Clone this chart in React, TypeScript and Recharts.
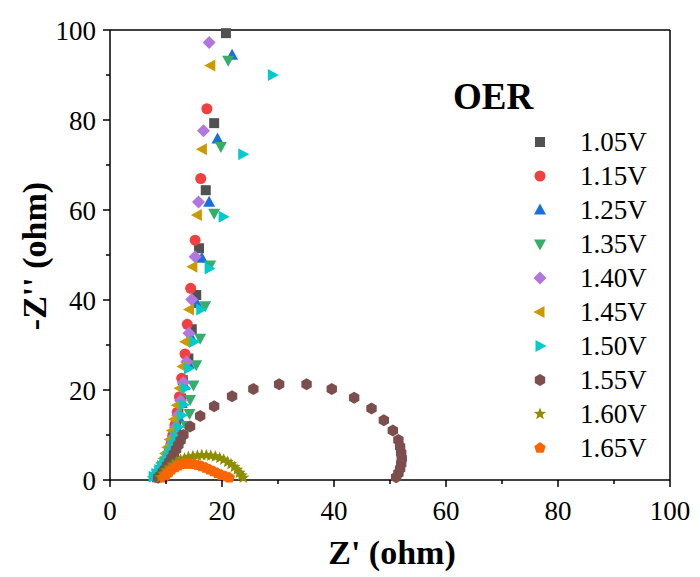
import React from "react";
import { ScatterChart, Scatter, XAxis, YAxis, ReferenceLine, Legend } from "recharts";

const FONT = "'Times New Roman', 'Liberation Serif', serif";

const voltages = ["1.05V", "1.15V", "1.25V", "1.35V", "1.40V", "1.45V", "1.50V", "1.55V", "1.60V", "1.65V"];
const colors = ["#515151", "#F14040", "#1A6FDF", "#37AD6B", "#B177DE", "#CC9900", "#00CBCC", "#7D4E4E", "#8E8E00", "#FB6501"];
const markers = ["square", "circle", "up", "down", "diamond", "left", "right", "hexagon", "star", "pentagon"];

const axisTicks = [0, 10, 20, 30, 40, 50, 60, 70, 80, 90, 100];

// [Z', -Z''] pairs
const s105 = [[8.4, 0.6], [8.8, 1.2], [9.2, 1.9], [9.5, 2.6], [9.8, 3.4], [10.1, 4.3], [10.4, 5.3], [10.7, 6.5], [11.0, 8.0], [11.4, 9.8], [11.8, 12.0], [12.2, 14.8], [12.7, 18.1], [13.0, 22.2], [14.0, 27.0], [14.6, 33.5], [15.4, 41.1], [15.9, 51.5], [17.1, 64.4], [18.6, 79.3], [20.7, 99.3]];
const s115 = [[8.3, 0.6], [8.7, 1.3], [9.1, 2.0], [9.4, 2.7], [9.7, 3.5], [10.0, 4.4], [10.3, 5.4], [10.6, 6.6], [10.9, 8.1], [11.2, 9.9], [11.6, 12.2], [12.0, 15.0], [12.4, 18.5], [12.8, 22.6], [13.4, 28.0], [13.8, 34.6], [14.4, 42.6], [15.2, 53.3], [16.2, 67.0], [17.3, 82.5]];
const s125 = [[8.3, 0.7], [8.8, 1.5], [9.2, 2.2], [9.6, 3.0], [10.0, 3.9], [10.4, 4.9], [10.7, 6.0], [11.1, 7.4], [11.5, 9.1], [11.9, 11.2], [12.3, 13.8], [12.8, 17.0], [13.3, 21.0], [14.0, 25.9], [14.4, 31.9], [15.5, 39.2], [16.4, 49.3], [17.7, 61.7], [19.2, 75.8], [21.8, 94.4]];
const s135 = [[8.8, 0.9], [9.4, 1.7], [10.0, 2.5], [10.5, 3.4], [11.0, 4.3], [11.5, 5.4], [12.0, 6.6], [12.5, 8.1], [13.0, 9.9], [13.6, 12.1], [14.2, 14.8], [14.3, 17.9], [14.9, 21.1], [15.4, 25.6], [16.1, 31.5], [17.0, 38.7], [17.9, 47.8], [18.6, 59.3], [19.8, 74.1], [21.1, 93.3]];
const s140 = [[8.1, 0.7], [8.5, 1.5], [8.9, 2.3], [9.3, 3.1], [9.7, 4.0], [10.1, 5.0], [10.5, 6.2], [10.9, 7.7], [11.3, 9.5], [11.7, 11.7], [12.1, 14.4], [12.6, 17.6], [13.1, 21.6], [13.7, 26.3], [14.1, 32.6], [14.6, 40.1], [15.2, 49.6], [15.8, 61.8], [16.7, 77.6], [17.7, 97.2]];
const s145 = [[7.7, 0.7], [8.1, 1.4], [8.5, 2.1], [8.9, 2.9], [9.2, 3.8], [9.6, 4.8], [9.9, 5.9], [10.3, 7.3], [10.7, 9.0], [11.1, 11.0], [11.5, 13.5], [12.0, 16.6], [12.5, 20.4], [13.0, 25.2], [13.5, 30.7], [14.2, 37.9], [14.8, 47.4], [15.6, 58.9], [16.5, 73.5], [18.0, 92.1]];
const s150 = [[7.7, 0.7], [8.2, 1.4], [8.7, 2.2], [9.2, 3.1], [9.7, 4.0], [10.2, 5.1], [10.7, 6.3], [11.2, 7.8], [11.7, 9.6], [12.2, 11.8], [12.8, 14.4], [13.1, 16.7], [13.4, 20.4], [14.0, 24.8], [15.0, 30.7], [16.2, 37.9], [17.7, 47.0], [20.2, 58.5], [23.7, 72.4], [29.0, 90.0]];
const s155 = [[8.6, 0.5], [9.0, 1.0], [9.4, 1.7], [9.8, 2.4], [10.2, 3.2], [10.6, 4.0], [11.0, 4.9], [11.4, 5.8], [11.8, 6.8], [12.2, 7.8], [12.6, 8.8], [13.1, 10.0], [14.3, 11.9], [16.1, 14.2], [18.6, 16.4], [21.8, 18.6], [25.6, 20.2], [30.2, 21.3], [35.1, 21.3], [39.6, 20.2], [43.6, 18.3], [46.7, 15.9], [48.9, 13.3], [50.5, 11.0], [51.5, 8.9], [51.8, 7.4], [52.0, 6.0], [52.1, 4.8], [52.0, 3.6], [51.8, 2.5], [51.5, 1.5], [51.1, 0.6]];
const s160 = [[9.0, 0.6], [9.5, 1.4], [10.0, 2.1], [10.6, 2.8], [11.2, 3.4], [11.9, 4.0], [12.6, 4.5], [13.3, 4.8], [14.0, 5.1], [14.8, 5.3], [15.6, 5.4], [16.4, 5.5], [17.2, 5.5], [18.0, 5.4], [18.8, 5.2], [19.6, 4.9], [20.3, 4.5], [21.0, 4.0], [21.6, 3.5], [22.2, 2.9], [22.7, 2.3], [23.1, 1.6], [23.5, 1.0], [23.8, 0.5]];
const s165 = [[9.6, 0.5], [10.0, 1.1], [10.5, 1.7], [11.0, 2.3], [11.6, 2.8], [12.2, 3.2], [12.9, 3.5], [13.6, 3.6], [14.3, 3.6], [15.0, 3.5], [15.7, 3.3], [16.4, 3.0], [17.1, 2.7], [17.8, 2.3], [18.5, 1.9], [19.2, 1.5], [19.9, 1.1], [20.6, 0.8], [21.3, 0.5]];

const allSeries = [s105, s115, s125, s135, s140, s145, s150, s155, s160, s165];

function poly(cx: number, cy: number, r: number, n: number, rot: number) {
  const pts: string[] = [];
  for (let i = 0; i < n; i++) {
    const a = rot + (i * 2 * Math.PI) / n;
    pts.push(`${cx + r * Math.cos(a)},${cy + r * Math.sin(a)}`);
  }
  return pts.join(" ");
}

function starPts(cx: number, cy: number, ro: number, ri: number) {
  const pts: string[] = [];
  for (let i = 0; i < 10; i++) {
    const r = i % 2 === 0 ? ro : ri;
    const a = -Math.PI / 2 + (i * Math.PI) / 5;
    pts.push(`${cx + r * Math.cos(a)},${cy + r * Math.sin(a)}`);
  }
  return pts.join(" ");
}

function Marker({ kind, cx, cy, color }: { kind: string; cx: number; cy: number; color: string }) {
  switch (kind) {
    case "square":
      return <rect x={cx - 5} y={cy - 5} width={10} height={10} fill={color} />;
    case "circle":
      return <circle cx={cx} cy={cy} r={5.5} fill={color} />;
    case "up":
      return <polygon points={`${cx},${cy - 6.5} ${cx - 6},${cy + 4.5} ${cx + 6},${cy + 4.5}`} fill={color} />;
    case "down":
      return <polygon points={`${cx},${cy + 6.5} ${cx - 6},${cy - 4.5} ${cx + 6},${cy - 4.5}`} fill={color} />;
    case "diamond":
      return <polygon points={`${cx},${cy - 6.5} ${cx + 6.5},${cy} ${cx},${cy + 6.5} ${cx - 6.5},${cy}`} fill={color} />;
    case "left":
      return <polygon points={`${cx - 6.5},${cy} ${cx + 4.5},${cy - 6} ${cx + 4.5},${cy + 6}`} fill={color} />;
    case "right":
      return <polygon points={`${cx + 6.5},${cy} ${cx - 4.5},${cy - 6} ${cx - 4.5},${cy + 6}`} fill={color} />;
    case "hexagon":
      return <polygon points={poly(cx, cy, 6, 6, -Math.PI / 2)} fill={color} />;
    case "star":
      return <polygon points={starPts(cx, cy, 6.5, 2.8)} fill={color} />;
    default:
      return <polygon points={poly(cx, cy, 6, 5, -Math.PI / 2)} fill={color} />;
  }
}

function XTick(props: any) {
  const { x, y, payload } = props;
  const major = payload.value % 20 === 0;
  return (
    <g>
      <line x1={x} y1={y} x2={x} y2={y + (major ? 7 : 4)} stroke="#000" strokeWidth={1.5} />
      {major && (
        <text x={x} y={y + 40} textAnchor="middle" fontSize={27} fontFamily={FONT} fill="#000">
          {payload.value}
        </text>
      )}
    </g>
  );
}

function YTick(props: any) {
  const { x, y, payload } = props;
  const major = payload.value % 20 === 0;
  return (
    <g>
      <line x1={x} y1={y} x2={x - (major ? 7 : 4)} y2={y} stroke="#000" strokeWidth={1.5} />
      {major && (
        <text x={x - 14} y={y + 9.5} textAnchor="end" fontSize={27} fontFamily={FONT} fill="#000">
          {payload.value}
        </text>
      )}
    </g>
  );
}

function LegendBox() {
  return (
    <svg width={260} height={420}>
      <text x={13} y={49} fontSize={37} fontWeight="bold" fontFamily={FONT} fill="#000">
        OER
      </text>
      {voltages.map((v, i) => (
        <g key={v}>
          <Marker kind={markers[i]} cx={100} cy={82 + i * 34} color={colors[i]} />
          <text x={140} y={82 + i * 34 + 9} fontSize={27} fontFamily={FONT} fill="#000">
            {v}
          </text>
        </g>
      ))}
    </svg>
  );
}

export default function App() {
  return (
    <div style={{ width: 700, height: 577 }}>
      <style>{`body{margin:0}`}</style>
      <ScatterChart width={700} height={577} margin={{ top: 30, right: 30, left: 0, bottom: 37 }}>
        <XAxis
          type="number"
          dataKey="x"
          domain={[0, 100]}
          ticks={axisTicks}
          interval={0}
          height={60}
          tickSize={0}
          tickMargin={0}
          tickLine={false}
          tick={<XTick />}
          axisLine={{ stroke: "#000", strokeWidth: 1.5 }}
          label={{
            content: () => (
              <text x={392} y={564} textAnchor="middle" fontSize={34} fontWeight="bold" fontFamily={FONT} fill="#000">
                Z' (ohm)
              </text>
            ),
          }}
        />
        <YAxis
          type="number"
          dataKey="y"
          domain={[0, 100]}
          ticks={axisTicks}
          interval={0}
          width={110}
          tickSize={0}
          tickMargin={0}
          tickLine={false}
          tick={<YTick />}
          axisLine={{ stroke: "#000", strokeWidth: 1.5 }}
          label={{
            content: () => (
              <text
                x={0}
                y={0}
                transform="translate(46,256) rotate(-90)"
                textAnchor="middle"
                fontSize={34}
                fontWeight="bold"
                fontFamily={FONT}
                fill="#000"
              >
                -Z'' (ohm)
              </text>
            ),
          }}
        />
        <ReferenceLine y={100} stroke="#000" strokeWidth={1.5} />
        <ReferenceLine x={100} stroke="#000" strokeWidth={1.5} />
        {allSeries.map((s, i) => (
          <Scatter
            key={voltages[i]}
            name={voltages[i]}
            data={s.map(([x, y]) => ({ x, y }))}
            fill={colors[i]}
            isAnimationActive={false}
            shape={(p: any) => <Marker kind={markers[i]} cx={p.cx} cy={p.cy} color={colors[i]} />}
          />
        ))}
        <Legend
          layout="vertical"
          align="center"
          verticalAlign="middle"
          content={() => <LegendBox />}
          wrapperStyle={{ position: "absolute", left: 440, top: 60, width: 260, height: 420 }}
        />
      </ScatterChart>
    </div>
  );
}
